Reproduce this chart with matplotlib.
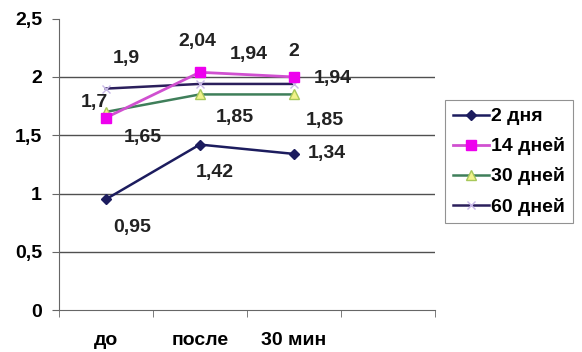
import matplotlib.pyplot as plt
from matplotlib.ticker import FixedLocator

plt.rcParams['font.family'] = ['Liberation Sans', 'DejaVu Sans']

categories = ['до', 'после', '30 мин']
series_names = ['2 дня', '14 дней', '30 дней', '60 дней']
days2 = [0.95, 1.42, 1.34]
days14 = [1.65, 2.04, 2.0]
days30 = [1.7, 1.85, 1.85]
days60 = [1.9, 1.94, 1.94]
labels2 = ['0,95', '1,42', '1,34']
labels14 = ['1,65', '2,04', '2']
labels30 = ['1,7', '1,85', '1,85']
labels60 = ['1,9', '1,94', '1,94']

fig = plt.figure(figsize=(5.82, 3.52), dpi=100)
ax = fig.add_axes([0.101, 0.119, 0.646, 0.828])

x = list(range(len(categories)))

ax.plot(x, days60, color='#2b1f5c', linewidth=1.8, marker='x', markersize=6,
        markeredgecolor='#c9b8e8', label=series_names[3], zorder=3)
ax.plot(x, days30, color='#3f7f5a', linewidth=1.8, marker='^', markersize=7,
        markerfacecolor='#f2f28a', markeredgecolor='#a8c85a', label=series_names[2], zorder=4)
ax.plot(x, days14, color='#d050d0', linewidth=2.0, marker='s', markersize=7,
        markerfacecolor='#ee00ee', markeredgecolor='#ee00ee', label=series_names[1], zorder=5)
ax.plot(x, days2, color='#1c1c5e', linewidth=1.8, marker='D', markersize=5.5,
        markerfacecolor='#1c1c5e', label=series_names[0], zorder=6)

lab_kw = dict(textcoords='offset points', fontsize=14, fontweight='bold',
              color='#222222', ha='center', va='center')
# label offsets (points) relative to each data point
off2 = [(19, -20), (11, -20), (24, 0)]
off14 = [(27, -14), (-2, 22), (0, 18)]
off30 = [(-8, 6.5), (25, -16.5), (22, -19)]
off60 = [(14.5, 22), (35, 21), (28, 4)]
for vals, labs, offs in [(days2, labels2, off2), (days14, labels14, off14),
                         (days30, labels30, off30), (days60, labels60, off60)]:
    for xi, v, t, o in zip(x, vals, labs, offs):
        ax.annotate(t, (xi, v), xytext=o, **lab_kw)

ax.set_xlim(-0.5, 3.5)
ax.set_ylim(0, 2.5)
ax.set_yticks([0, 0.5, 1, 1.5, 2, 2.5])
ax.set_yticklabels(['0', '0,5', '1', '1,5', '2', '2,5'], fontsize=14, fontweight='bold')
for yv in [0.5, 1, 1.5, 2]:
    ax.axhline(yv, color='#505050', linewidth=1, zorder=1)

ax.set_xticks(x)
ax.set_xticklabels(categories, fontsize=14, fontweight='bold')
ax.tick_params(axis='x', which='major', length=0, pad=16)
ax.xaxis.set_minor_locator(FixedLocator([-0.5, 0.5, 1.5, 2.5, 3.5]))
ax.tick_params(axis='x', which='minor', length=5, direction='out', color='#666666')
ax.tick_params(axis='y', length=5, direction='out', color='#666666', pad=7)

for s in ['top', 'right']:
    ax.spines[s].set_visible(False)
for s in ['left', 'bottom']:
    ax.spines[s].set_color('#666666')

handles, lbls = ax.get_legend_handles_labels()
leg = fig.legend(handles[::-1], lbls[::-1], loc='upper left', bbox_to_anchor=(0.765, 0.716),
                 prop={'weight': 'bold', 'size': 14}, frameon=True, fancybox=False,
                 handlelength=1.85, handletextpad=0.1, borderpad=0.4, labelspacing=0.62,
                 borderaxespad=0)
leg.get_frame().set_edgecolor('#777777')
leg.get_frame().set_linewidth(0.8)

fig.savefig('out.png', dpi=100, facecolor='white')
